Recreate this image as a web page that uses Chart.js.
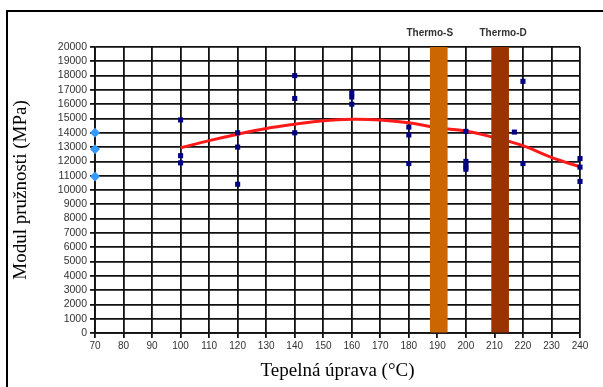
<!DOCTYPE html>
<html><head><meta charset="utf-8">
<script src="https://cdn.jsdelivr.net/npm/chart.js@4/dist/chart.umd.min.js"></script>
<style>html,body{margin:0;padding:0;background:#fff;}#w{width:603px;height:387px;position:relative;}</style>
</head><body><div id="w"><canvas id="c" width="603" height="387"></canvas></div>
<script>
// --- data ---
const xTicks = [70,80,90,100,110,120,130,140,150,160,170,180,190,200,210,220,230,240];
const measX = [100,100,100,120,120,120,140,140,140,160,160,160,180,180,180,200,200,200,200,200,217,220,220,240,240,240];
const measY = [14900,12400,11900,14000,13000,10400,18000,16400,14000,16800,16500,16000,14400,13850,11850,14100,12000,11800,11600,11450,14050,17600,11850,12200,11600,10600];
const refX = [70,70,70];
const refY = [14000,12850,10950];
const trendX = [100,110,120,130,140,150,160,170,180,190,200,210,220,230,240];
const trendY = [12950,13450,13900,14300,14600,14850,14950,14900,14700,14350,14130,13660,13100,12280,11620];
const barNames = ['Thermo-S','Thermo-D'];
const barX = [190.5,212];
const barY = [20000,20000];

const pts = (xs,ys)=>xs.map((x,i)=>({x:x,y:ys[i]}));

const frame = {
  id:'frame',
  beforeDraw(chart){
    const ctx=chart.ctx;
    ctx.save();
    ctx.fillStyle='#fff';ctx.fillRect(0,0,chart.width,chart.height);
    ctx.strokeStyle='#000';ctx.lineWidth=2;
    ctx.strokeRect(7,11,chart.width+20,chart.height+20);
    ctx.restore();
  },
  afterDraw(chart){
    const ctx=chart.ctx, xs=chart.scales.x;
    ctx.save();
    ctx.font='bold 10px "Liberation Sans", Arial, sans-serif';
    ctx.fillStyle='#333';ctx.textAlign='center';ctx.textBaseline='middle';
    const off=[-9,3];
    barNames.forEach((n,i)=>{ctx.fillText(n,xs.getPixelForValue(barX[i])+off[i],33);});
    ctx.restore();
  }
};

new Chart(document.getElementById('c'),{
  type:'scatter',
  data:{datasets:[
    {type:'bar',label:'Thermo',data:pts(barX,barY),backgroundColor:['#CC6600','#993300'],barThickness:17,grouped:false,order:0},
    {type:'scatter',label:'měření',data:pts(measX,measY),pointStyle:'rect',pointRadius:3.6,backgroundColor:'#000080',borderColor:'#000080',borderWidth:0,clip:false,order:1},
    {type:'scatter',label:'ref',data:pts(refX,refY),pointStyle:'rectRot',pointRadius:5,backgroundColor:'#3399FF',borderColor:'#3399FF',borderWidth:0,clip:false,order:1},
    {type:'line',label:'trend',data:pts(trendX,trendY),borderColor:'#FF1A1A',borderWidth:3,pointRadius:0,tension:0.4,fill:false,order:2}
  ]},
  options:{
    responsive:false,animation:false,
    layout:{padding:{left:7,right:23,top:47,bottom:0}},
    plugins:{legend:{display:false},tooltip:{enabled:false}},
    scales:{
      x:{type:'linear',min:70,max:240,offset:false,
        afterBuildTicks(s){s.ticks=xTicks.map(v=>({value:v}));},
        afterFit(s){s.height=54;},
        grid:{color:'#111',lineWidth:1.8,tickLength:5,offset:false,drawTicks:true},
        border:{color:'#111',width:1.8},
        ticks:{color:'#333',font:{family:'"Liberation Sans", Arial, sans-serif',size:10},padding:2,maxRotation:0,autoSkip:false,callback:v=>String(v)},
        title:{display:true,text:'Tepelná úprava (°C)',color:'#000',font:{family:'"Liberation Serif","Times New Roman",serif',size:19},padding:{top:0,bottom:5}}
      },
      y:{type:'linear',min:0,max:20000,
        ticks:{stepSize:1000,color:'#333',font:{family:'"Liberation Sans", Arial, sans-serif',size:10.5},padding:3,autoSkip:false,callback:v=>String(v)},
        afterFit(s){s.width=88;},
        grid:{color:'#111',lineWidth:1.8,tickLength:5},
        border:{color:'#111',width:1.8},
        title:{display:true,text:'Modul pružnosti (MPa)',color:'#000',font:{family:'"Liberation Serif","Times New Roman",serif',size:19},padding:{top:3,bottom:0}}
      }
    }
  },
  plugins:[frame]
});
</script></body></html>
